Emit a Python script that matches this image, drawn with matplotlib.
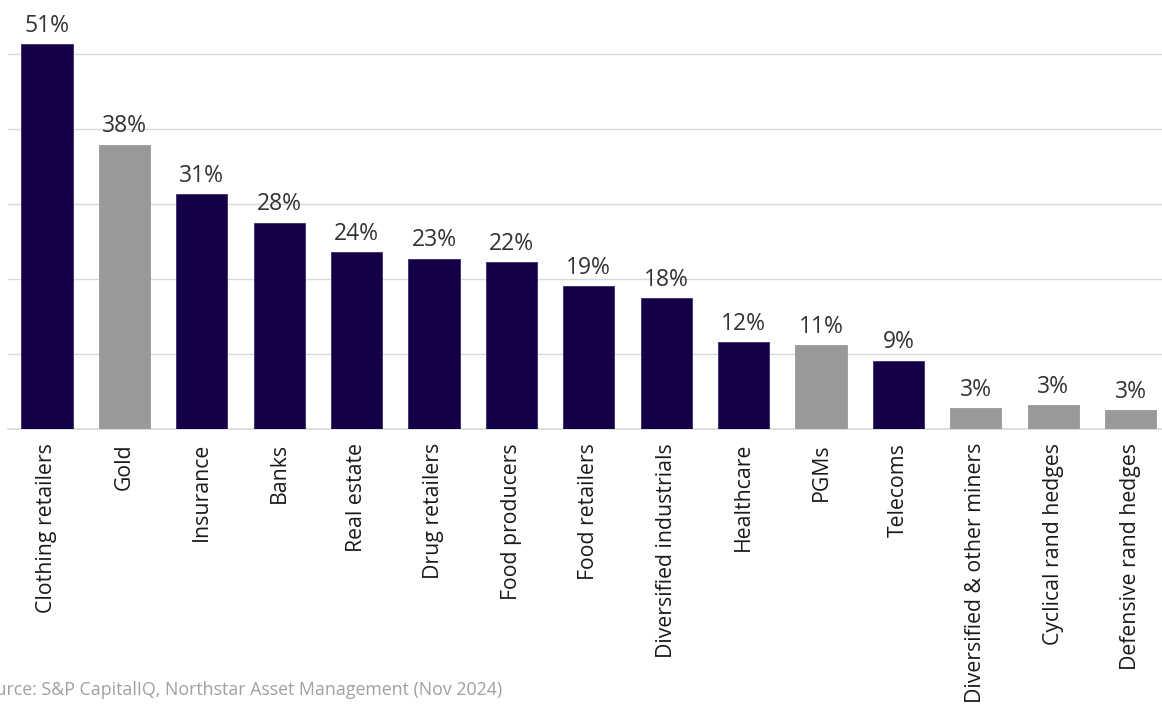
import matplotlib
matplotlib.use("Agg")
import matplotlib.pyplot as plt
import numpy as np

plt.rcParams["font.family"] = ["Open Sans", "DejaVu Sans"]

CATEGORIES = [
    "Clothing retailers", "Gold", "Insurance", "Banks", "Real estate",
    "Drug retailers", "Food producers", "Food retailers",
    "Diversified industrials", "Healthcare", "PGMs", "Telecoms",
    "Diversified & other miners", "Cyclical rand hedges",
    "Defensive rand hedges",
]
VALUES = [51.3, 37.9, 31.3, 27.5, 23.6, 22.7, 22.3, 19.1, 17.5, 11.6, 11.2, 9.1, 2.8, 3.2, 2.5]
LABELS = ["51%", "38%", "31%", "28%", "24%", "23%", "22%", "19%", "18%", "12%",
          "11%", "9%", "3%", "3%", "3%"]
IS_GREY = [False, True, False, False, False, False, False, False, False, False,
           True, False, True, True, True]

NAVY = "#150048"
GREY = "#999999"

W, H = 1162, 704
fig = plt.figure(figsize=(W / 100, H / 100), dpi=100)
ax = fig.add_axes([8.3 / W, 1 - 429 / H, 1161 / W, 429 / H])

x = np.arange(len(CATEGORIES))
colors = [GREY if g else NAVY for g in IS_GREY]
edges = ["#999999" if g else "#3a2a70" for g in IS_GREY]
bars = ax.bar(x, VALUES, width=0.66, color=colors, edgecolor=edges, linewidth=0.6, zorder=3)

for b, lab in zip(bars, LABELS):
    ax.annotate(lab, (b.get_x() + b.get_width() / 2, b.get_height()),
                xytext=(0, 4.5), textcoords="offset points",
                ha="center", va="bottom", fontsize=16.5, color="#333333")

ax.set_xlim(-0.5, len(CATEGORIES) - 0.5)
ax.set_ylim(0, 429 / 7.5)
ax.set_yticks([10, 20, 30, 40, 50])
ax.yaxis.grid(True, color="#d9d9d9", linewidth=1, zorder=0)
ax.tick_params(axis="y", left=False, labelleft=False)
ax.tick_params(axis="x", length=0, pad=10)
ax.set_xticks(x)
ax.set_xticklabels(CATEGORIES, rotation=90, fontsize=15.3, color="#1a1a1a", va="top")
for s in ["top", "right", "left"]:
    ax.spines[s].set_visible(False)
ax.spines["bottom"].set_color("#d9d9d9")
ax.spines["bottom"].set_linewidth(1.2)
ax.patch.set_alpha(0)

# the source line is cropped on the left in the original image
fig.text(-25 / W, 1 - 690 / H, "Source: S&P CapitalIQ, Northstar Asset Management (Nov 2024)",
         fontsize=12.8, color="#a0a0a0", ha="left", va="center")

fig.savefig("out.png", dpi=100)
